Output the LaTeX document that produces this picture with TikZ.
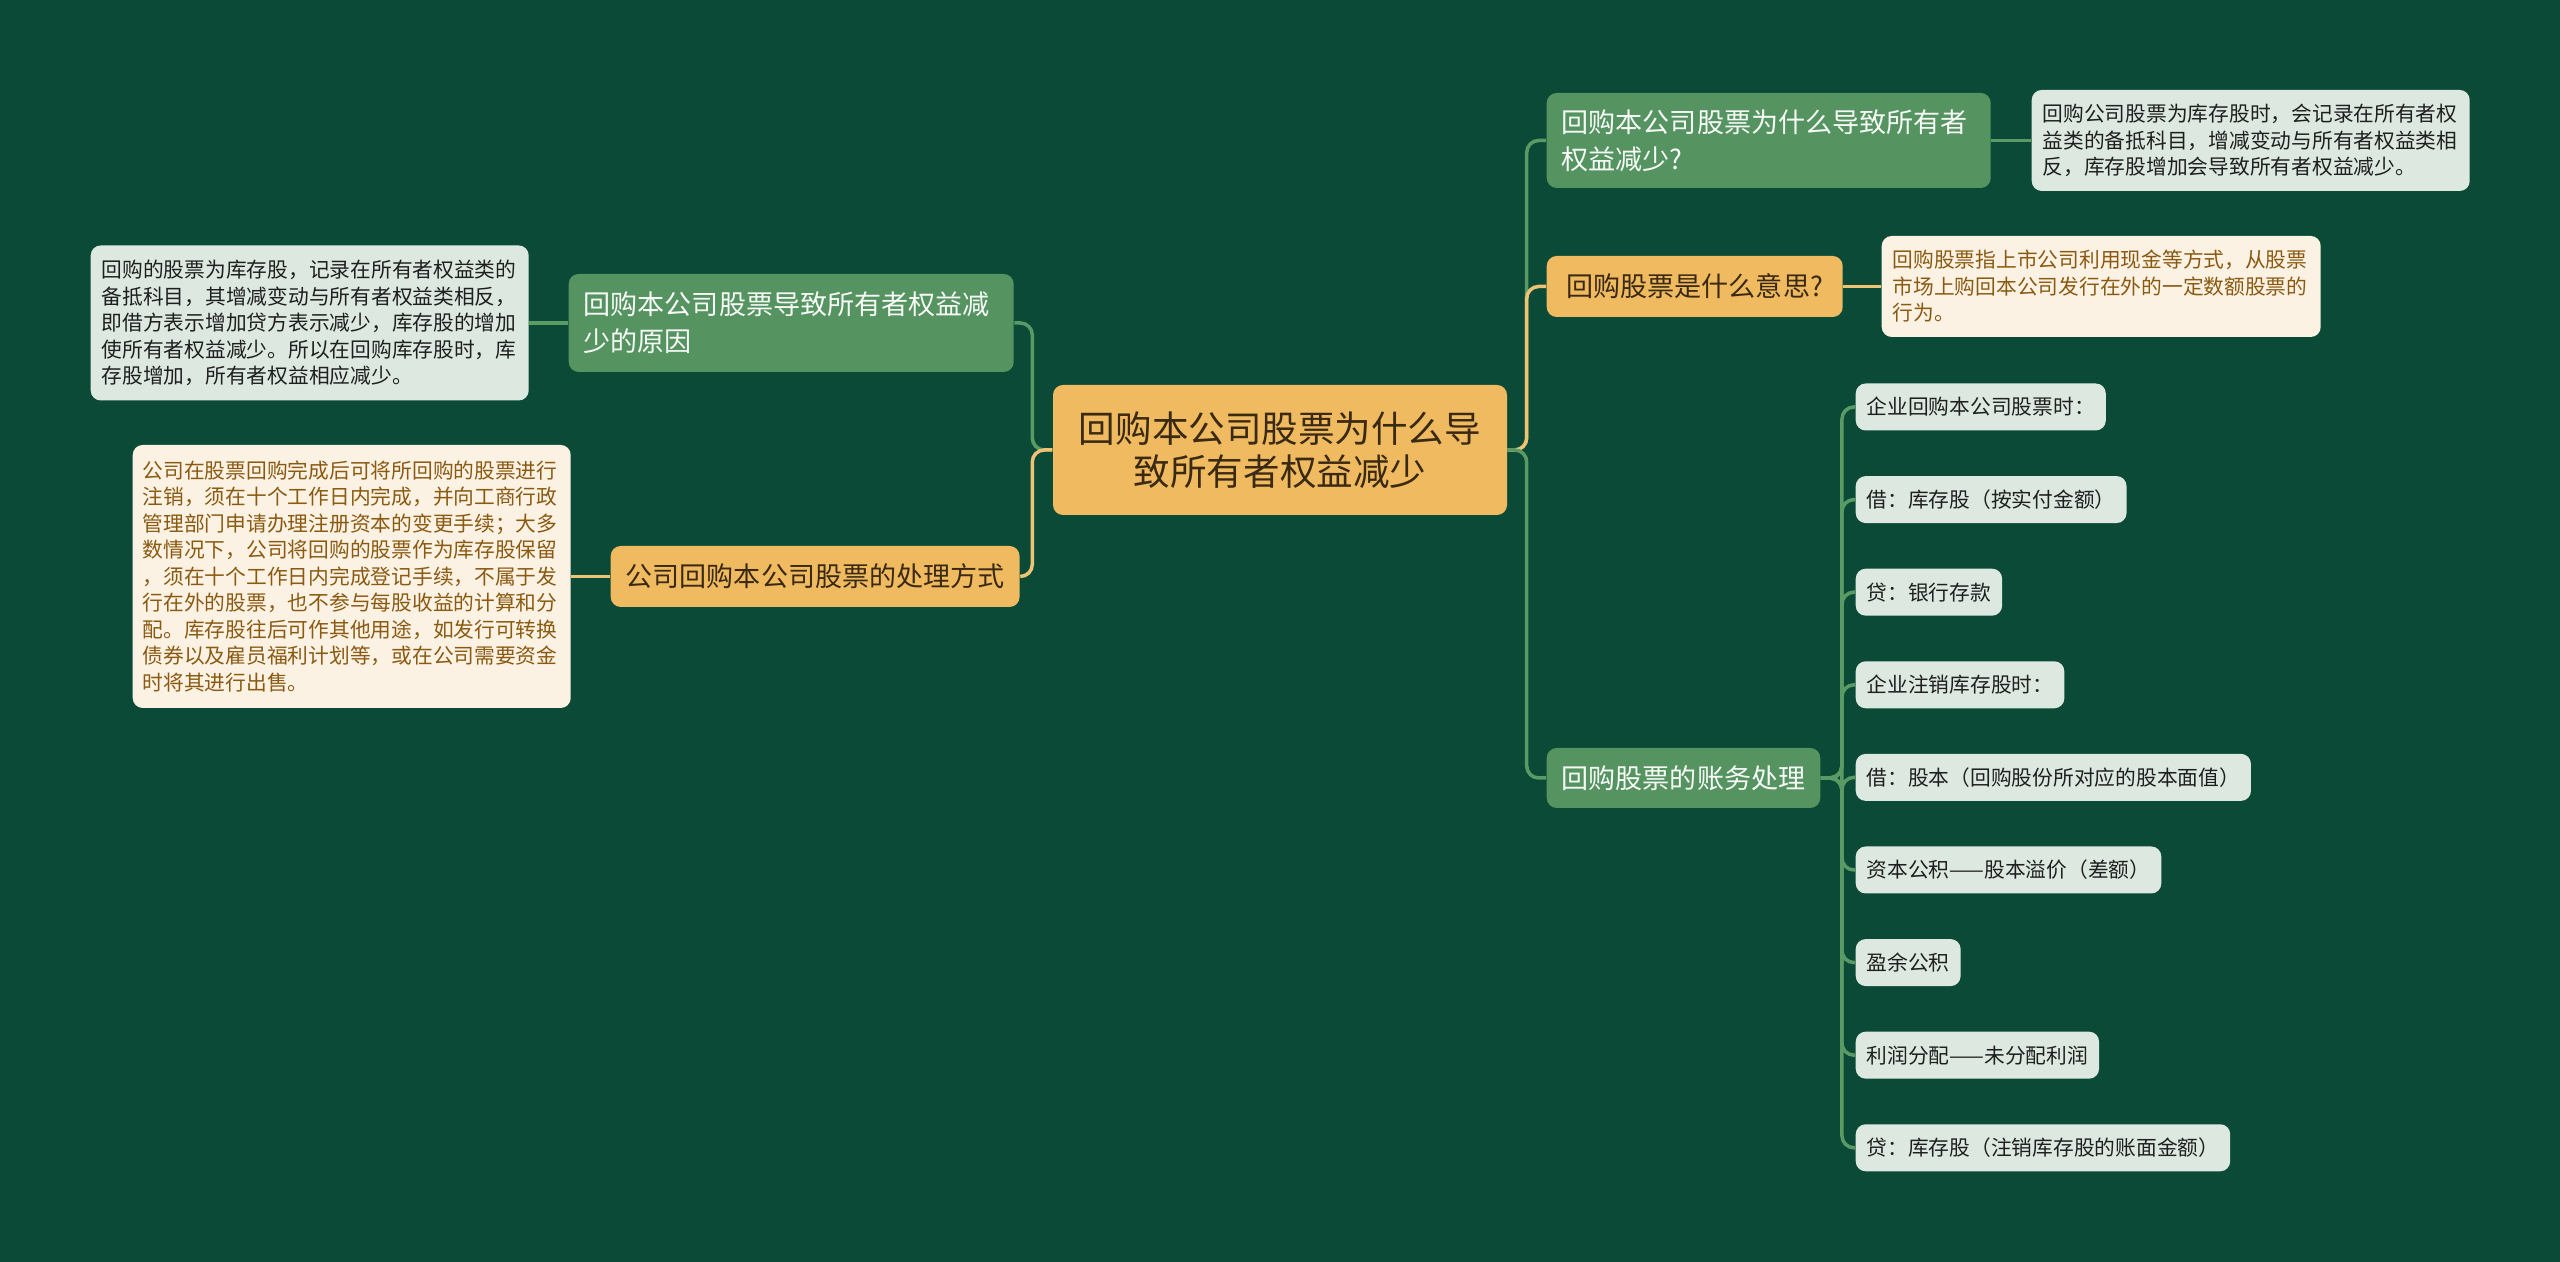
\documentclass[tikz,border=0pt]{standalone}
\usepackage{fontspec}
\setmainfont{Noto Sans CJK SC}
\usepackage{xcolor}
\usepackage{tikz}
\usetikzlibrary{positioning,calc}
\definecolor{bgdark}{HTML}{0A4A37}
\definecolor{rootfill}{HTML}{F0BA60}
\definecolor{darktext}{HTML}{3A2A12}
\definecolor{brgreen}{HTML}{559461}
\definecolor{lfgreen}{HTML}{DDE9E0}
\definecolor{lfcream}{HTML}{FCF2E3}
\definecolor{creamtext}{HTML}{8A5A12}
\definecolor{lngreen}{HTML}{5A9A65}
\definecolor{lnyellow}{HTML}{EEC373}

\begin{document}
\begin{tikzpicture}[
  root/.style={
    fill=rootfill, text=darktext, rounded corners=0.1cm,
    font=\fontsize{10.4}{12.3}\selectfont, align=center,
    minimum width=4.54cm, minimum height=1.30cm, inner sep=0pt
  },
  gbranch/.style={
    fill=brgreen, text=white!95!brgreen, rounded corners=0.1cm,
    font=\fontsize{7.7}{10.5}\selectfont, align=left,
    inner xsep=0.15cm, inner ysep=0pt, anchor=west
  },
  ybranch/.style={gbranch, fill=rootfill, text=darktext},
  gleaf/.style={
    fill=lfgreen, text=black!88, rounded corners=0.1cm,
    font=\fontsize{5.9}{7.54}\selectfont, align=left,
    inner xsep=0.11cm, inner ysep=0pt, anchor=west
  },
  yleaf/.style={gleaf, fill=lfcream, text=creamtext},
  cleaf/.style={gleaf, minimum height=0.47cm},
  gline/.style={draw=lngreen, line width=0.035cm, rounded corners=0.12cm},
  yline/.style={draw=lnyellow, line width=0.035cm, rounded corners=0.12cm}
]
\useasboundingbox (0,0) rectangle (25.6,12.62);
\fill[bgdark] (0,0) rectangle (25.6,12.62);

% Centro
\node[root] (root) at (12.80, 8.12) {回购本公司股票为什么导\\致所有者权益减少};

% Lado izquierdo
\node[gbranch, text width=4.15cm, minimum height=0.98cm] (lb1) at (5.68, 9.39)
  {回购本公司股票导致所有者权益减\\少的原因};
\node[ybranch, minimum width=4.03cm, minimum height=0.61cm] (lb2) at (6.10, 6.855)
  {公司回购本公司股票的处理方式};

\node[gleaf, text width=4.16cm, minimum height=1.55cm] (l1) at (0.90, 9.39)
  {回购的股票为库存股，记录在所有者权益类的\\
   备抵科目，其增减变动与所有者权益类相反，\\
   即借方表示增加贷方表示减少，库存股的增加\\
   使所有者权益减少。所以在回购库存股时，库\\
   存股增加，所有者权益相应减少。};
\node[yleaf, text width=4.18cm, inner xsep=0.10cm, minimum height=2.63cm] (l2) at (1.32, 6.855)
  {公司在股票回购完成后可将所回购的股票进行\\
   注销，须在十个工作日内完成，并向工商行政\\
   管理部门申请办理注册资本的变更手续；大多\\
   数情况下，公司将回购的股票作为库存股保留\\
   ，须在十个工作日内完成登记手续，不属于发\\
   行在外的股票，也不参与每股收益的计算和分\\
   配。库存股往后可作其他用途，如发行可转换\\
   债券以及雇员福利计划等，或在公司需要资金\\
   时将其进行出售。};

% Lado derecho
\node[gbranch, text width=4.14cm, minimum height=0.95cm] (rb1) at (15.46, 11.215)
  {回购本公司股票为什么导致所有者\\权益减少?};
\node[ybranch, minimum width=2.96cm, minimum height=0.61cm] (rb2) at (15.46, 9.755)
  {回购股票是什么意思?};
\node[gbranch, minimum width=2.68cm, minimum height=0.60cm] (rb3) at (15.46, 4.84)
  {回购股票的账务处理};

\node[gleaf, text width=4.16cm, minimum height=1.01cm] (r1) at (20.31, 11.215)
  {回购公司股票为库存股时，会记录在所有者权\\
   益类的备抵科目，增减变动与所有者权益类相\\
   反，库存股增加会导致所有者权益减少。};
\node[yleaf, text width=4.17cm, minimum height=1.01cm] (r2) at (18.81, 9.755)
  {回购股票指上市公司利用现金等方式，从股票\\
   市场上购回本公司发行在外的一定数额股票的\\
   行为。};

% Asientos contables
\node[cleaf] (c1) at (18.55, 8.550) {企业回购本公司股票时：};
\node[cleaf] (c2) at (18.55, 7.624) {借：库存股（按实付金额）};
\node[cleaf] (c3) at (18.55, 6.698) {贷：银行存款};
\node[cleaf] (c4) at (18.55, 5.772) {企业注销库存股时：};
\node[cleaf] (c5) at (18.55, 4.846) {借：股本（回购股份所对应的股本面值）};
\node[cleaf] (c6) at (18.55, 3.920) {资本公积——股本溢价（差额）};
\node[cleaf] (c7) at (18.55, 2.994) {盈余公积};
\node[cleaf] (c8) at (18.55, 2.068) {利润分配——未分配利润};
\node[cleaf] (c9) at (18.55, 1.142) {贷：库存股（注销库存股的账面金额）};

% Conectores
\draw[gline] (root.west) -- ++(-0.20,0) |- (lb1.east);
\draw[yline] (root.west) -- ++(-0.20,0) |- (lb2.east);
\draw[gline] (lb1.west) -- (lb1.west -| l1.east);
\draw[yline] (lb2.west) -- (lb2.west -| l2.east);

\draw[gline] (root.east) -- ++(0.19,0) |- (rb1.west);
\draw[yline] (root.east) -- ++(0.19,0) |- (rb2.west);
\draw[gline] (root.east) -- ++(0.19,0) |- (rb3.west);
\draw[gline] (rb1.east) -- (rb1.east -| r1.west);
\draw[yline] (rb2.east) -- (rb2.east -| r2.west);

\draw[gline] (rb3.east) -- ++(0.21,0) |- (c1.west);
\draw[gline] (rb3.east) -- ++(0.21,0) |- (c2.west);
\draw[gline] (rb3.east) -- ++(0.21,0) |- (c3.west);
\draw[gline] (rb3.east) -- ++(0.21,0) |- (c4.west);
\draw[gline] (rb3.east) -- ++(0.21,0) |- (c5.west);
\draw[gline] (rb3.east) -- ++(0.21,0) |- (c6.west);
\draw[gline] (rb3.east) -- ++(0.21,0) |- (c7.west);
\draw[gline] (rb3.east) -- ++(0.21,0) |- (c8.west);
\draw[gline] (rb3.east) -- ++(0.21,0) |- (c9.west);
\end{tikzpicture}
\end{document}
